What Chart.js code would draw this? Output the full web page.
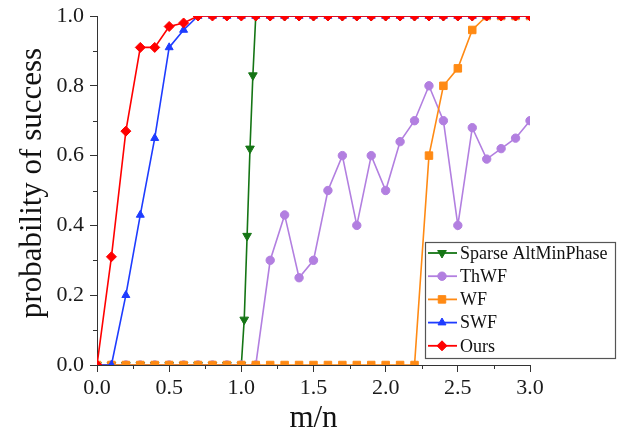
<!DOCTYPE html>
<html>
<head>
<meta charset="utf-8">
<script src="https://cdn.jsdelivr.net/npm/chart.js@4/dist/chart.umd.min.js"></script>
<style>
  html, body { margin:0; padding:0; background:#fff; }
  #wrap { width:623px; height:443px; position:relative; }
</style>
</head>
<body>
<div id="wrap"><canvas id="grafico"></canvas></div>
<script>
// m/n sampling shared by most curves
const mn = [0,0.1,0.2,0.3,0.4,0.5,0.6,0.7,0.8,0.9,1.0,1.1,1.2,1.3,1.4,1.5,1.6,1.7,1.8,1.9,2.0,2.1,2.2,2.3,2.4,2.5,2.6,2.7,2.8,2.9,3.0];
const ours = [0,0.31,0.67,0.91,0.91,0.97,0.98,1,1,1,1,1,1,1,1,1,1,1,1,1,1,1,1,1,1,1,1,1,1,1,1];
const swf  = [0,0,0.20,0.43,0.65,0.91,0.96,1,1,1,1,1,1,1,1,1,1,1,1,1,1,1,1,1,1,1,1,1,1,1,1];
const wf   = [0,0,0,0,0,0,0,0,0,0,0,0,0,0,0,0,0,0,0,0,0,0,0,0.60,0.80,0.85,0.96,1,1,1,1];
const thwf = [0,0,0,0,0,0,0,0,0,0,0,0,0.30,0.43,0.25,0.30,0.50,0.60,0.40,0.60,0.50,0.64,0.70,0.80,0.70,0.40,0.68,0.59,0.62,0.65,0.70];
// sparse altminphase is sampled finer around m/n = 1
const altX = [0,0.1,0.2,0.3,0.4,0.5,0.6,0.7,0.8,0.9,1.0,1.02,1.04,1.06,1.08,1.1,1.2,1.3,1.4,1.5,1.6,1.7,1.8,1.9,2.0,2.1,2.2,2.3,2.4,2.5,2.6,2.7,2.8,2.9,3.0];
const altY = [0,0,0,0,0,0,0,0,0,0,0,0.13,0.37,0.62,0.83,1,1,1,1,1,1,1,1,1,1,1,1,1,1,1,1,1,1,1,1];
const xTicks = [0,0.5,1.0,1.5,2.0,2.5,3.0];
const yTicks = [0,0.2,0.4,0.6,0.8,1.0];

const SERIF = "'Liberation Serif', 'Times New Roman', serif";
const pts = (xs, ys) => xs.map((x, i) => ({ x, y: ys[i] }));

function serie(label, xs, ys, cor, estilo, raio, rot, ordem){
  return { label, data: pts(xs, ys), borderColor: cor, backgroundColor: cor, borderWidth: 1.6,
    pointStyle: estilo, pointRadius: raio, pointRotation: rot, pointBorderWidth: 1, pointBackgroundColor: cor,
    pointBorderColor: cor, tension: 0, clip: 0, order: ordem };
}

const datasets = [
  serie("Sparse AltMinPhase", altX, altY, "#157515", "triangle", 5, 180, 4),
  serie("ThWF", mn, thwf, "#b27fe0", "circle", 4.2, 0, 3),
  serie("WF", mn, wf, "#ff8a14", "rect", 5.3, 0, 2),
  serie("SWF", mn, swf, "#1e3cff", "triangle", 4.6, 0, 1),
  serie("Ours", mn, ours, "#ff0000", "rectRot", 5, 0, 0)
];

// minor ticks, y title and legend box drawn by hand
const extras = {
  id: "extras",
  afterDraw(chart){
    const ctx = chart.ctx, x = chart.scales.x, y = chart.scales.y;
    ctx.save();
    ctx.strokeStyle = "#333"; ctx.lineWidth = 1;
    ctx.beginPath();
    for(let v = 0.25; v < 3; v += 0.5){ const px = Math.round(x.getPixelForValue(v)) + 0.5; ctx.moveTo(px, y.bottom); ctx.lineTo(px, y.bottom + 4); }
    for(let v = 0.1; v < 1; v += 0.2){ const py = Math.round(y.getPixelForValue(v)) + 0.5; ctx.moveTo(x.left, py); ctx.lineTo(x.left - 4, py); }
    ctx.stroke();

    ctx.save();
    ctx.translate(33, 183); ctx.rotate(-Math.PI / 2);
    ctx.font = "31px " + SERIF; ctx.fillStyle = "#111"; ctx.textAlign = "center"; ctx.textBaseline = "middle";
    ctx.fillText("probability of success", 0, 0);
    ctx.restore();

    const bx = 425.5, by = 242.5, bw = 190, bh = 116;
    ctx.fillStyle = "#fff"; ctx.fillRect(bx, by, bw, bh);
    ctx.strokeStyle = "#555"; ctx.lineWidth = 1.2; ctx.strokeRect(bx, by, bw, bh);
    ctx.font = "18px " + SERIF; ctx.textBaseline = "middle"; ctx.fillStyle = "#111";
    datasets.forEach((d, i) => {
      const ly = 253 + i * 23.2;
      ctx.strokeStyle = d.borderColor; ctx.lineWidth = 1.8;
      ctx.beginPath(); ctx.moveTo(428, ly); ctx.lineTo(457, ly); ctx.stroke();
      ctx.fillStyle = d.borderColor; ctx.lineWidth = 1;
      Chart.helpers.drawPoint(ctx, { pointStyle: d.pointStyle, rotation: d.pointRotation, radius: d.pointRadius, borderWidth: 1 }, 442, ly);
      ctx.fillStyle = "#111";
      ctx.fillText(d.label, 460, ly + 1);
    });
    ctx.restore();
  }
};

const eixo = (min, max, ticks, titulo, tituloPad, tickPad, largura) => ({
  type: "linear", min, max,
  afterBuildTicks(s){ s.ticks = ticks.map(v => ({ value: v })); },
  afterFit(s){
    if(largura.w){ s.width = largura.w; s.paddingTop = 0; s.paddingBottom = 0; }
    if(largura.h){ s.height = largura.h; s.paddingLeft = 0; s.paddingRight = 0; }
  },
  ticks: { color: "#1a1a1a", font: { family: SERIF, size: 22 }, padding: tickPad, callback: v => v.toFixed(1), maxRotation: 0, autoSkip: false },
  grid: { drawOnChartArea: false, tickLength: 7, color: "#333" },
  border: { color: "#333", width: 1 },
  title: { display: !!titulo, text: titulo, color: "#111", font: { family: SERIF, size: 31 }, padding: tituloPad }
});

new Chart(document.getElementById("grafico"), {
  type: "line",
  data: { datasets },
  plugins: [extras],
  options: {
    responsive: true, maintainAspectRatio: false, animation: false,
    layout: { padding: { top: 16, right: 93, left: 0, bottom: 0 } },
    plugins: { legend: { display: false }, tooltip: { enabled: false } },
    scales: {
      x: eixo(0, 3, xTicks, "m/n", { top: 0, bottom: 6 }, 3, { h: 78 }),
      y: eixo(0, 1, yTicks, "", { top: 0, bottom: 0 }, 6, { w: 97 })
    }
  }
});
</script>
</body>
</html>
